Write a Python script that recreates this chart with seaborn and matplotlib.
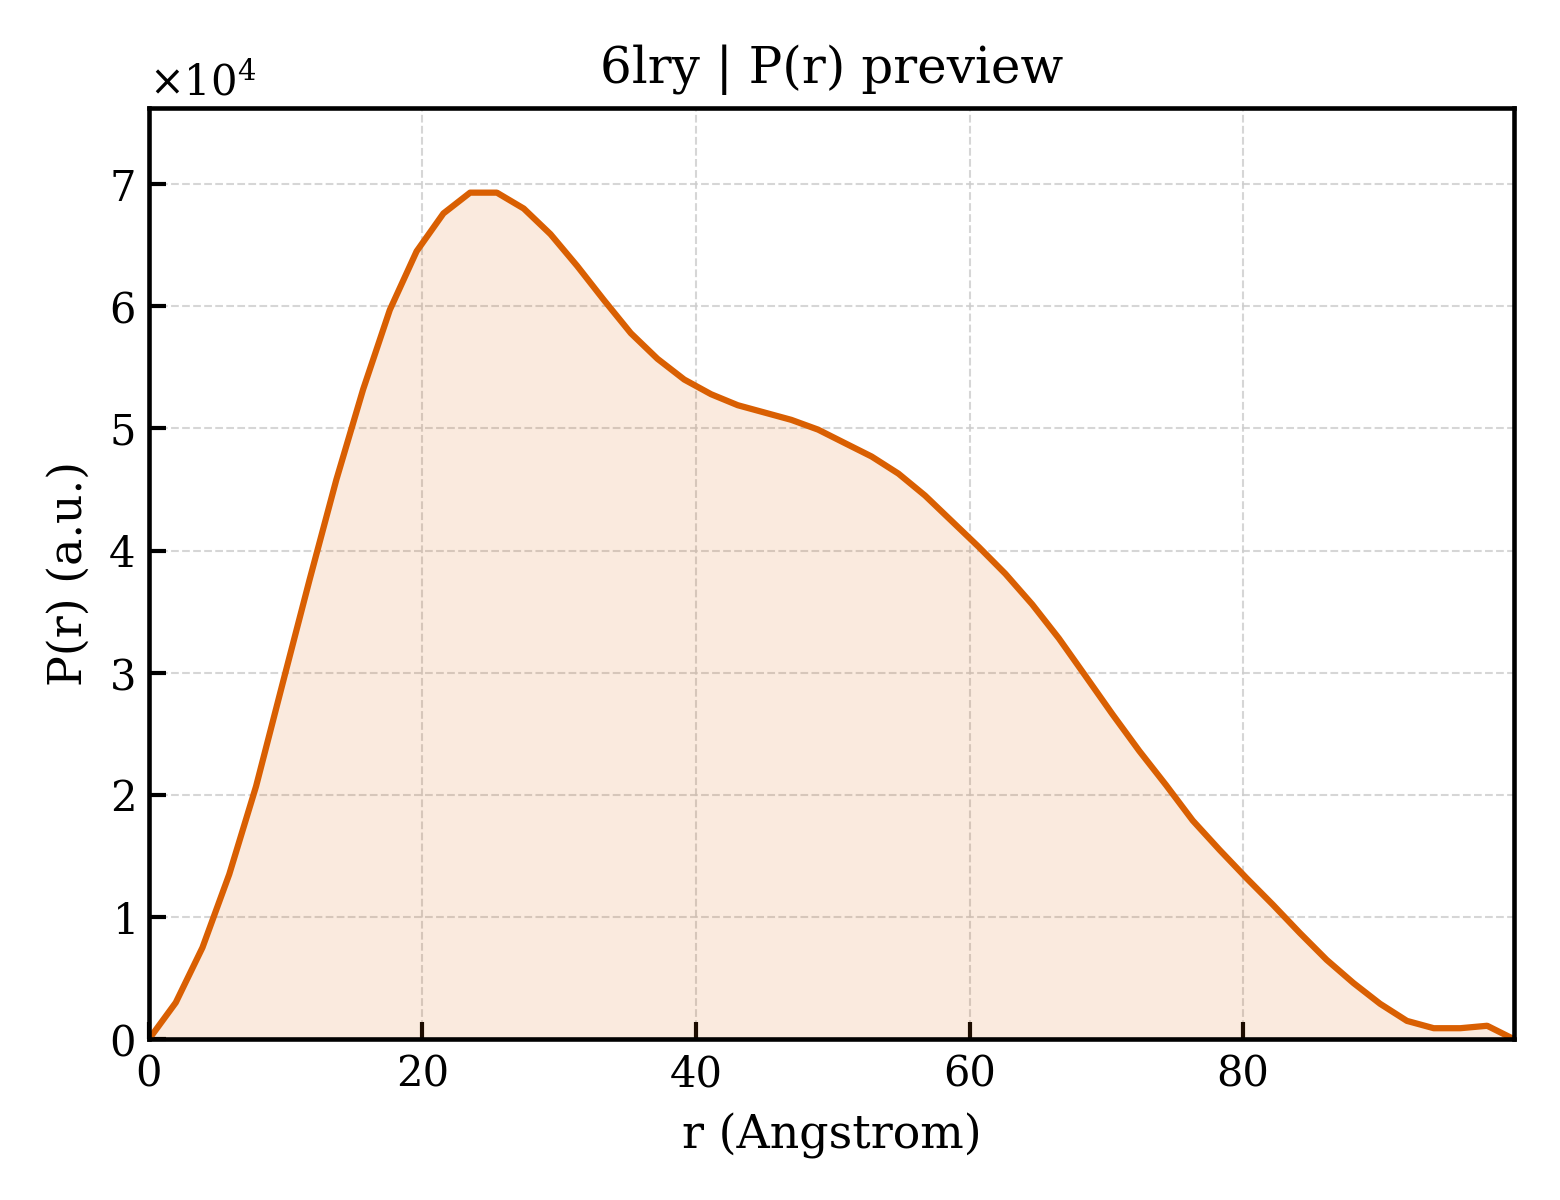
import numpy as np
import pandas as pd
import matplotlib
matplotlib.use("Agg")
import matplotlib.pyplot as plt
import seaborn as sns
from matplotlib.ticker import ScalarFormatter

# r grid (Angstrom) and P(r) values (a.u.)
R = [0.00, 1.96, 3.91, 5.87, 7.83, 9.79, 11.74, 13.70, 15.66, 17.61,
     19.57, 21.53, 23.48, 25.44, 27.40, 29.36, 31.31, 33.27, 35.23, 37.18,
     39.14, 41.10, 43.05, 45.01, 46.97, 48.93, 50.88, 52.84, 54.80, 56.75,
     58.71, 60.67, 62.62, 64.58, 66.54, 68.50, 70.45, 72.41, 74.37, 76.32,
     78.28, 80.24, 82.19, 84.15, 86.11, 88.07, 90.02, 91.98, 93.94, 95.89,
     97.85, 99.81]
PR = [0, 3000, 7500, 13500, 20700, 29200, 37600, 45800, 53200, 59700,
      64500, 67600, 69300, 69300, 68000, 65900, 63300, 60500, 57800, 55700,
      54000, 52800, 51900, 51300, 50700, 49900, 48800, 47700, 46300, 44500,
      42400, 40300, 38100, 35600, 32800, 29700, 26600, 23600, 20800, 17900,
      15500, 13200, 11000, 8700, 6500, 4600, 2900, 1500, 900, 900,
      1100, 0]

TITLE = "6lry | P(r) preview"
COLOR = "#D95F02"

sns.set_style("ticks")
plt.rcParams["font.family"] = ["DejaVu Serif"]
plt.rcParams["mathtext.fontset"] = "dejavuserif"
plt.rcParams.update({
    "text.color": "black",
    "axes.labelcolor": "black",
    "axes.edgecolor": "black",
    "xtick.color": "black",
    "ytick.color": "black",
})

df = pd.DataFrame({"r": R, "pr": PR})

fig = plt.figure(figsize=(5.2, 4.0), dpi=300)
ax = fig.add_axes([0.0955, 0.134, 0.875, 0.776])

sns.lineplot(data=df, x="r", y="pr", color=COLOR, linewidth=1.5, ax=ax)
ax.fill_between(df["r"], df["pr"], color=COLOR, alpha=0.13, linewidth=0)

ax.set_xlim(0, df["r"].max())
ax.set_ylim(0, df["pr"].max() * 1.1)
ax.set_xticks([0, 20, 40, 60, 80])

fmt = ScalarFormatter(useMathText=True)
fmt.set_powerlimits((0, 0))
ax.yaxis.set_major_formatter(fmt)
ax.yaxis.get_offset_text().set_fontsize(10)

ax.grid(True, linestyle="--", linewidth=0.5, color="#cccccc", alpha=0.8)
ax.tick_params(direction="in", length=4, width=1, labelsize=10)
for s in ax.spines.values():
    s.set_linewidth(1.1)

ax.set_title(TITLE, fontsize=12)
ax.set_xlabel("r (Angstrom)", fontsize=11)
ax.set_ylabel("P(r) (a.u.)", fontsize=11)

fig.savefig("out.png", dpi=300)
plt.close(fig)
